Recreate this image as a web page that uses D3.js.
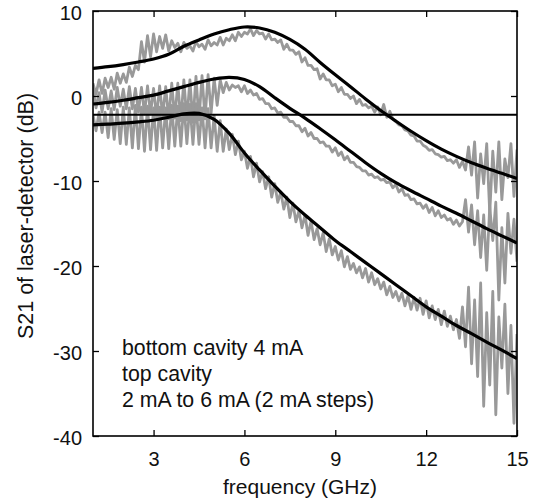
<!DOCTYPE html>
<html><head><meta charset="utf-8">
<script src="https://cdn.jsdelivr.net/npm/d3@7"></script>
<style>
body{margin:0;background:#fff}
svg{display:block}
text{font-family:Arial,"Liberation Sans",sans-serif;fill:#111}
</style>
</head><body>
<svg id="chart" width="538" height="501"></svg>
<script>
// ---------- data ----------
const xTicks = [3, 6, 9, 12, 15];
const yTicks = [-40, -30, -20, -10, 0, 10];
const xTitle = "frequency (GHz)";
const yTitle = "S21 of laser-detector (dB)";
const annotation = ["bottom cavity 4 mA", "top cavity", "2 mA to 6 mA (2 mA steps)"];
const refLevel = -2.2;

// fitted model curves (GHz, dB)
const fitFreq = [1,1.5,2,2.5,3,3.5,4,4.5,5,5.5,6,6.5,7,7.5,8,8.5,9,9.5,10,10.5,11,11.5,12,12.5,13,13.5,14,14.5,15];
const fitTop = [3.26,3.45,3.7,4.0,4.35,4.9,5.85,6.6,7.3,7.8,8.12,8.0,7.5,6.65,5.5,3.95,2.5,1.1,-0.35,-1.7,-2.95,-4.15,-5.25,-6.25,-7.1,-7.85,-8.5,-9.1,-9.7];
const fitMid = [-0.94,-0.75,-0.5,-0.2,0.1,0.6,1.1,1.6,2.0,2.2,1.95,1.1,-0.2,-1.45,-2.6,-3.85,-5.15,-6.5,-7.85,-9.1,-10.2,-11.15,-12.05,-12.95,-13.8,-14.7,-15.6,-16.45,-17.3];
const fitBot = [-3.4,-3.3,-3.2,-3.05,-2.85,-2.5,-2.1,-2.05,-2.75,-4.4,-6.7,-8.7,-10.6,-12.4,-14.0,-15.5,-17.0,-18.3,-19.6,-20.9,-22.2,-23.5,-24.8,-25.9,-27.0,-27.95,-28.95,-29.9,-30.9];

// measured traces, sampled every 0.1 GHz from 1.0 GHz
const measStart = 1.0, measStep = 0.1;
const measTop = [
 1.5,0.2,1.9,0.3,2.1,1.0,2.2,0.8,2.7,1.5,
 2.6,1.6,3.4,2.3,3.6,3.1,6.4,4.0,7.1,4.6,
 7.3,5.2,7.0,5.6,7.2,5.3,6.5,5.7,6.2,5.2,
 6.3,5.6,5.9,5.3,6.4,5.8,6.1,5.5,6.6,5.9,
 6.3,6.0,6.9,6.0,6.8,6.5,7.2,6.5,7.5,7.0,
 7.5,7.3,7.9,7.1,7.7,7.3,7.4,6.7,7.3,6.6,
 6.7,6.3,6.6,5.5,6.1,5.4,5.4,4.9,5.2,4.0,
 4.5,3.6,3.6,3.1,3.2,2.0,2.6,1.9,1.9,1.2,
 1.4,0.5,1.0,0.2,0.2,-0.3,0.0,-0.9,-0.4,-1.1,
 -1.0,-1.4,-1.2,-1.9,-1.3,-2.2,-1.0,-2.5,-1.8,-2.7,
 -3.0,-3.4,-3.5,-4.0,-4.1,-4.6,-4.7,-5.3,-5.3,-5.8,
 -6.0,-6.4,-6.3,-6.8,-6.9,-7.2,-7.1,-7.6,-7.5,-7.9,
 -7.5,-8.4,-7.7,-8.7,-6.0,-9.3,-5.4,-12.0,-6.8,-10.3,
 -5.6,-13.8,-6.5,-11.3,-5.4,-12.2,-7.4,-9.6,-5.6,-11.8,
 -6.3];
const measMid = [
 0.8,-1.4,0.4,-1.9,0.7,-1.5,0.6,-1.6,1.0,-1.2,
 0.8,-1.5,1.1,-1.5,0.9,-1.9,1.0,-2.1,1.2,-2.1,
 0.9,-2.5,1.2,-2.4,1.1,-2.7,1.5,-2.6,1.5,-2.9,
 1.9,-2.8,1.9,-3.1,2.3,-2.8,2.4,-2.7,2.5,-2.0,
 2.1,-1.1,1.9,0.4,1.6,0.7,1.3,1.0,1.2,0.5,
 1.2,0.3,0.7,0.1,0.3,-0.4,-0.3,-0.9,-0.9,-1.5,
 -1.4,-2.0,-1.9,-2.5,-2.5,-3.0,-3.0,-3.5,-3.5,-4.2,
 -3.8,-4.7,-4.3,-5.0,-5.0,-5.5,-5.4,-5.9,-5.9,-6.6,
 -6.1,-7.0,-6.6,-7.5,-7.1,-7.8,-7.8,-8.3,-8.4,-8.8,
 -8.8,-9.3,-9.2,-9.6,-9.5,-9.9,-9.8,-10.2,-10.1,-10.8,
 -10.4,-11.3,-10.9,-11.7,-11.6,-12.2,-12.1,-12.7,-12.6,-13.2,
 -12.8,-13.7,-13.1,-14.1,-13.5,-14.3,-14.0,-14.6,-14.4,-15.1,
 -14.6,-15.3,-14.8,-12.2,-16.0,-12.8,-17.5,-13.5,-19.0,-14.0,
 -20.5,-13.0,-17.0,-12.5,-24.0,-15.5,-22.0,-13.8,-18.5,-14.5,
 -19.5];
const measBot = [
 -2.2,-4.1,-1.9,-4.3,-1.9,-4.9,-1.5,-5.1,-1.6,-5.6,
 -1.3,-5.7,-1.4,-6.1,-1.1,-6.2,-1.3,-6.5,-1.2,-6.3,
 -1.4,-6.4,-1.3,-6.1,-1.4,-6.2,-1.1,-5.9,-1.2,-5.9,
 -0.9,-5.6,-1.0,-5.7,-0.9,-5.7,-1.4,-6.1,-1.5,-6.1,
 -2.3,-6.5,-2.9,-6.5,-3.9,-6.3,-4.5,-6.9,-5.3,-7.5,
 -6.5,-8.5,-7.1,-9.5,-7.9,-10.1,-8.9,-10.9,-9.5,-11.9,
 -10.3,-12.5,-11.3,-13.3,-11.9,-14.3,-12.6,-14.8,-13.5,-15.5,
 -14.0,-16.4,-14.7,-16.9,-15.6,-17.5,-16.1,-18.3,-16.8,-18.7,
 -17.7,-19.3,-18.2,-20.1,-18.9,-20.4,-19.7,-20.8,-20.1,-21.4,
 -20.3,-21.9,-20.8,-22.2,-21.5,-22.7,-21.9,-23.4,-22.4,-23.7,
 -23.0,-24.1,-23.2,-24.7,-23.5,-25.1,-23.7,-25.2,-23.8,-25.7,
 -24.1,-26.1,-24.7,-26.3,-25.1,-26.9,-25.3,-27.1,-25.9,-27.5,
 -26.3,-28.5,-24.8,-29.5,-22.5,-31.5,-24.0,-33.0,-22.0,-36.5,
 -25.5,-34.0,-23.0,-37.5,-26.0,-32.0,-24.5,-35.0,-27.0,-38.5,
 -28.0];

// ---------- drawing ----------
const svg = d3.select("#chart");
const L = 93, R = 517, T = 11, B = 436;
const x = d3.scaleLinear().domain([1, 15]).range([L, R]);
const y = d3.scaleLinear().domain([-40, 10]).range([B, T]);

svg.append("defs").append("clipPath").attr("id", "clip")
  .append("rect").attr("x", L).attr("y", T).attr("width", R - L).attr("height", B - T);

const plot = svg.append("g").attr("clip-path", "url(#clip)");

const measLine = d3.line()
  .x((d, i) => x(measStart + i * measStep))
  .y(d => y(d));

[measTop, measMid, measBot].forEach(s => {
  plot.append("path").datum(s)
    .attr("d", measLine)
    .attr("fill", "none")
    .attr("stroke", "#999999")
    .attr("stroke-width", 2.8)
    .attr("stroke-linejoin", "round");
});

const fitLine = d3.line()
  .x((d, i) => x(fitFreq[i]))
  .y(d => y(d))
  .curve(d3.curveCatmullRom.alpha(0.5));

[fitTop, fitMid, fitBot].forEach(s => {
  plot.append("path").datum(s)
    .attr("d", fitLine)
    .attr("fill", "none")
    .attr("stroke", "#000")
    .attr("stroke-width", 3.2);
});

plot.append("line")
  .attr("x1", L).attr("x2", R)
  .attr("y1", y(refLevel)).attr("y2", y(refLevel))
  .attr("stroke", "#000").attr("stroke-width", 2);

// axes
const fmt = d => String(d);
const axB = svg.append("g").attr("transform", `translate(0,${B})`)
  .call(d3.axisBottom(x).tickValues(xTicks).tickSizeInner(-6).tickSizeOuter(0).tickPadding(16).tickFormat(fmt));
const axT = svg.append("g").attr("transform", `translate(0,${T})`)
  .call(d3.axisTop(x).tickValues(xTicks).tickSizeInner(-6).tickSizeOuter(0).tickFormat(""));
const axL = svg.append("g").attr("transform", `translate(${L},0)`)
  .call(d3.axisLeft(y).tickValues(yTicks).tickSizeInner(-6).tickSizeOuter(0).tickPadding(11).tickFormat(fmt));
const axR = svg.append("g").attr("transform", `translate(${R},0)`)
  .call(d3.axisRight(y).tickValues(yTicks).tickSizeInner(-6).tickSizeOuter(0).tickFormat(""));

[axB, axT, axL, axR].forEach(a => {
  a.select(".domain").remove();
  a.selectAll(".tick line").attr("stroke", "#000").attr("stroke-width", 1.3);
  a.selectAll("text").attr("font-size", 20).attr("font-family", "Arial, 'Liberation Sans', sans-serif").attr("fill", "#111");
});
axL.selectAll("text").attr("dy", "0.42em");

svg.append("rect")
  .attr("x", L).attr("y", T).attr("width", R - L).attr("height", B - T)
  .attr("fill", "none").attr("stroke", "#000").attr("stroke-width", 1.6);

// titles
svg.append("text")
  .attr("x", 300).attr("y", 494)
  .attr("text-anchor", "middle").attr("font-size", 21)
  .text(xTitle);

svg.append("text")
  .attr("transform", "translate(33,216) rotate(-90)")
  .attr("text-anchor", "middle").attr("font-size", 21.5)
  .text(yTitle);

// annotation
svg.append("g").selectAll("text").data(annotation).join("text")
  .attr("x", 122)
  .attr("y", (d, i) => 355 + i * 26)
  .attr("font-size", 21.3)
  .text(d => d);
</script>
</body></html>
